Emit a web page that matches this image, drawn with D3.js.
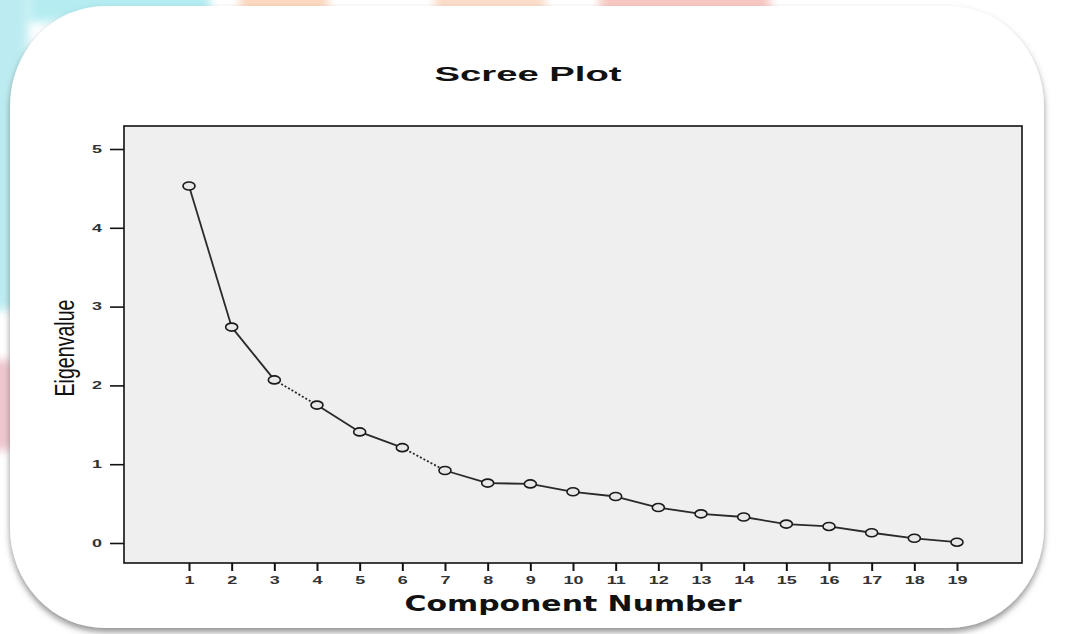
<!DOCTYPE html>
<html>
<head>
<meta charset="utf-8">
<script src="https://cdn.jsdelivr.net/npm/d3@7"></script>
<style>
  body { margin: 0; background: #fff; }
  svg { display: block; }
</style>
</head>
<body>
<div id="chart"></div>
<script>
// scree plot data
const components = [1, 2, 3, 4, 5, 6, 7, 8, 9, 10, 11, 12, 13, 14, 15, 16, 17, 18, 19];
const eigenvalues = [4.53, 2.74, 2.07, 1.75, 1.41, 1.21, 0.92, 0.76, 0.75, 0.65, 0.59, 0.45, 0.37, 0.33, 0.24, 0.21, 0.13, 0.06, 0.01];
const yTicks = [0, 1, 2, 3, 4, 5];
const titleText = 'Scree Plot';
const xTitle = 'Component Number';
const yTitle = 'Eigenvalue';

const width = 1066, height = 634;
const plot = { left: 124, top: 126, right: 1022, bottom: 563 };
const stretch = 1.8; // the source picture is widened, text too

const svg = d3.select('#chart')
  .append('svg')
  .attr('width', width)
  .attr('height', height);

const defs = svg.append('defs');
defs.append('filter').attr('id', 'blur')
  .attr('x', '-50%').attr('y', '-50%').attr('width', '200%').attr('height', '200%')
  .append('feGaussianBlur').attr('stdDeviation', 5);
const shadow = defs.append('filter').attr('id', 'shadow')
  .attr('x', '-10%').attr('y', '-10%').attr('width', '120%').attr('height', '125%');
shadow.append('feDropShadow')
  .attr('dx', 0).attr('dy', 4).attr('stdDeviation', 3)
  .attr('flood-color', '#777').attr('flood-opacity', 0.8);

// faded page behind the card
const bg = svg.append('g').attr('filter', 'url(#blur)');
bg.append('rect').attr('x', 30).attr('y', -20).attr('width', 180).attr('height', 42).attr('fill', '#b4ecf1');
bg.append('rect').attr('x', -20).attr('y', -20).attr('width', 48).attr('height', 330).attr('fill', '#bcecf1');
bg.append('rect').attr('x', 240).attr('y', -20).attr('width', 88).attr('height', 40).attr('fill', '#fbd8c0');
bg.append('rect').attr('x', 435).attr('y', -20).attr('width', 110).attr('height', 40).attr('fill', '#fbdcc8');
bg.append('rect').attr('x', 600).attr('y', -20).attr('width', 170).attr('height', 40).attr('fill', '#f7c8c2');
bg.append('rect').attr('x', -20).attr('y', 360).attr('width', 40).attr('height', 90).attr('fill', '#edc6cd');

// card
svg.append('rect')
  .attr('x', 10).attr('y', 6)
  .attr('width', 1034).attr('height', 622)
  .attr('rx', 95).attr('ry', 100)
  .attr('fill', '#fff')
  .attr('filter', 'url(#shadow)');

// title
svg.append('text')
  .attr('x', 528).attr('y', 81)
  .attr('text-anchor', 'middle')
  .attr('textLength', 187).attr('lengthAdjust', 'spacingAndGlyphs')
  .style('font-family', 'Liberation Sans, Arial, sans-serif')
  .style('font-weight', 'bold')
  .style('font-size', '20px')
  .style('fill', '#111')
  .text(titleText);

// panel
svg.append('rect')
  .attr('x', plot.left).attr('y', plot.top)
  .attr('width', plot.right - plot.left).attr('height', plot.bottom - plot.top)
  .attr('fill', '#efefef')
  .attr('stroke', '#111').attr('stroke-width', 1.6);

const x = d3.scaleLinear().domain([1, 19]).range([189, 957]);
const y = d3.scaleLinear().domain([0, 5]).range([543, 149]);

// x axis
const gx = svg.append('g')
  .attr('transform', `translate(0, ${plot.bottom})`)
  .call(d3.axisBottom(x).tickValues(components).tickSize(8).tickSizeOuter(0).tickFormat(d3.format('d')));
gx.select('.domain').remove();
gx.selectAll('line').attr('stroke', '#111').attr('stroke-width', 2);
gx.selectAll('text')
  .attr('y', 21).attr('dy', 0)
  .attr('transform', `scale(${stretch},1)`)
  .style('font-family', 'Liberation Sans, Arial, sans-serif')
  .style('font-weight', 'bold')
  .style('font-size', '10px')
  .style('fill', '#333');

// y axis
const gy = svg.append('g')
  .attr('transform', `translate(${plot.left}, 0)`)
  .call(d3.axisLeft(y).tickValues(yTicks).tickSize(14).tickSizeOuter(0).tickFormat(d3.format('d')));
gy.select('.domain').remove();
gy.selectAll('line').attr('stroke', '#111').attr('stroke-width', 1.6);
gy.selectAll('text')
  .attr('x', -27 / stretch)
  .attr('text-anchor', 'middle')
  .attr('transform', `scale(${stretch},1)`)
  .style('font-family', 'Liberation Sans, Arial, sans-serif')
  .style('font-weight', 'bold')
  .style('font-size', '10px')
  .style('fill', '#333');

// axis titles
svg.append('text')
  .attr('x', 573).attr('y', 611)
  .attr('text-anchor', 'middle')
  .attr('textLength', 337).attr('lengthAdjust', 'spacingAndGlyphs')
  .style('font-family', 'DejaVu Sans, Arial, sans-serif')
  .style('font-weight', 'bold')
  .style('font-size', '21px')
  .style('fill', '#111')
  .text(xTitle);

svg.append('text')
  .attr('transform', 'translate(74, 348) rotate(-90)')
  .attr('text-anchor', 'middle')
  .attr('textLength', 97).attr('lengthAdjust', 'spacingAndGlyphs')
  .style('font-family', 'Liberation Sans, Arial, sans-serif')
  .style('font-size', '27px')
  .style('fill', '#111')
  .text(yTitle);

// line, drawn segment by segment (two segments look dotted in the source)
const pts = components.map((c, i) => [c, eigenvalues[i]]);
const line = d3.line().x(d => x(d[0])).y(d => y(d[1]));
svg.append('g')
  .selectAll('path')
  .data(d3.pairs(pts))
  .enter()
  .append('path')
  .attr('d', d => line(d))
  .attr('fill', 'none')
  .attr('stroke', '#2a2a2a')
  .attr('stroke-width', 1.8)
  .attr('stroke-dasharray', (d, i) => (i === 2 || i === 5) ? '2,2' : null);

// markers
svg.append('g')
  .selectAll('ellipse')
  .data(pts)
  .enter()
  .append('ellipse')
  .attr('cx', d => x(d[0]))
  .attr('cy', d => y(d[1]))
  .attr('rx', 6).attr('ry', 4)
  .attr('fill', '#e8e8e8')
  .attr('stroke', '#1a1a1a')
  .attr('stroke-width', 1.6);
</script>
</body>
</html>
